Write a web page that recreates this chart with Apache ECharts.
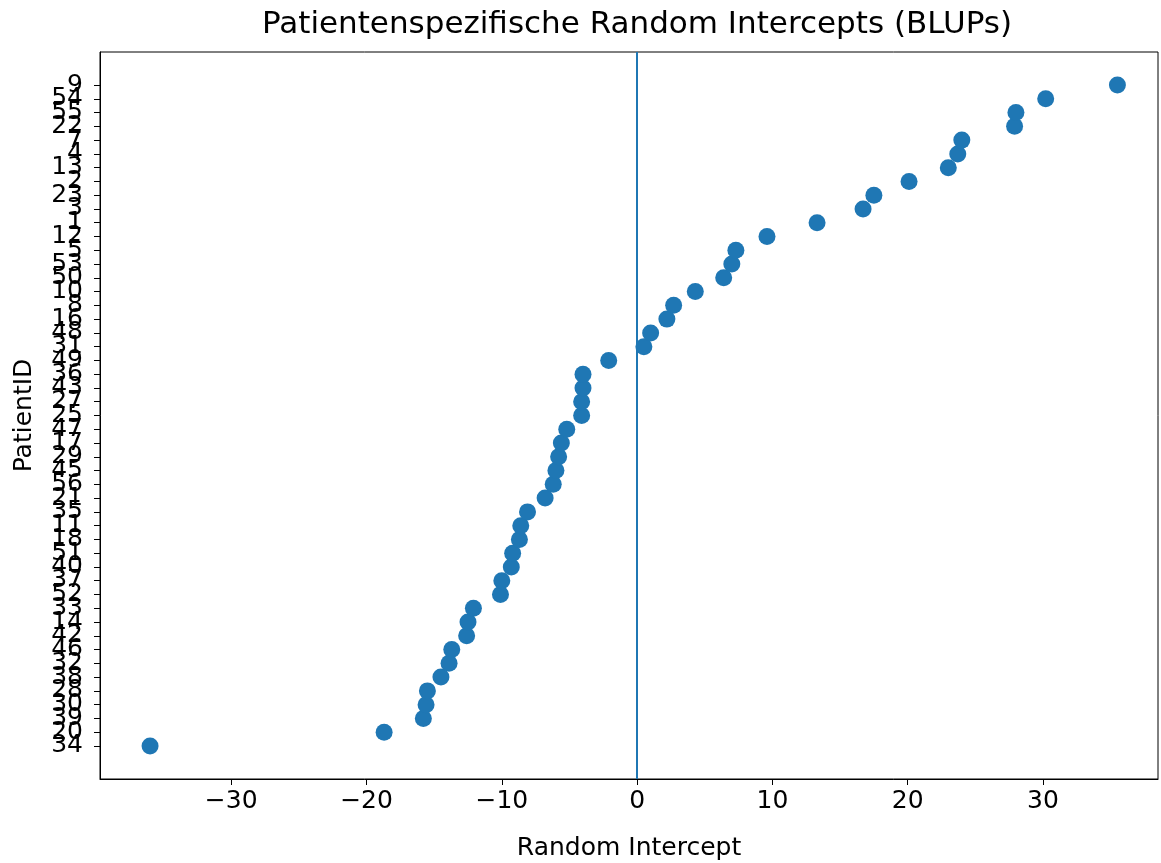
<!DOCTYPE html>
<html>
<head>
<meta charset="utf-8">
<script src="https://cdn.jsdelivr.net/npm/echarts@6/dist/echarts.min.js"></script>
<style>
html,body{margin:0;padding:0;background:#fff;}
#chart{width:1161px;height:863px;}
</style>
</head>
<body>
<div id="chart"></div>
<script>
// Patient IDs, bottom to top (sorted by random intercept)
const patientIds = [34,20,39,30,28,38,32,46,42,14,33,52,37,40,51,18,11,35,21,56,45,29,17,47,25,27,43,36,49,31,48,16,8,10,50,53,5,12,1,3,23,2,13,4,7,22,55,54,9];
// Random intercept (BLUP) per patient, same order
const intercepts = [-36.0,-18.7,-15.8,-15.6,-15.5,-14.5,-13.9,-13.7,-12.6,-12.5,-12.1,-10.1,-10.0,-9.3,-9.2,-8.7,-8.6,-8.1,-6.8,-6.2,-6.0,-5.8,-5.6,-5.2,-4.1,-4.1,-4.0,-4.0,-2.1,0.5,1.0,2.2,2.7,4.3,6.4,7.0,7.3,9.6,13.3,16.7,17.5,20.1,23.0,23.7,24.0,27.9,28.0,30.2,35.5];
const xTicks = [-30,-20,-10,0,10,20,30];

const idx = patientIds.map((_, i) => i);
const points = intercepts.map((v, i) => [v, i]);
const n = patientIds.length;
const xMin = -39.7, xMax = 38.5;
const yMin = -0.05 * (n - 1), yMax = (n - 1) * 1.05;

const chart = echarts.init(document.getElementById('chart'));
const fontFam = 'DejaVu Sans';

// The patient labels overlap heavily (as in the original); they are split over
// three label-only axes so that ECharts does not drop any of them.
function labelAxis(k) {
  return {
    type: 'value', min: yMin, max: yMax, position: 'left', offset: 0,
    axisLine: {show: false}, axisTick: {show: false}, splitLine: {show: false},
    axisLabel: {fontFamily: fontFam, fontSize: 25, color: '#000', margin: 17,
      customValues: idx.filter(i => i % 3 === k), hideOverlap: false,
      showMinLabel: true, showMaxLabel: true,
      formatter: v => String(patientIds[Math.round(v)])}
  };
}

chart.setOption({
  animation: false,
  backgroundColor: '#ffffff',
  title: {
    text: 'Patientenspezifische Random Intercepts (BLUPs)',
    left: 632, top: 4, textAlign: 'center',
    textStyle: {fontFamily: fontFam, fontSize: 31, fontWeight: 'normal', color: '#000'}
  },
  grid: {left: 100, right: 3, top: 52, bottom: 84, outerBoundsMode: 'none', containLabel: false,
    show: true, borderColor: '#000', borderWidth: 1, backgroundColor: 'transparent'},
  xAxis: {
    type: 'value', min: xMin, max: xMax,
    name: 'Random Intercept', nameLocation: 'middle', nameGap: 57,
    nameTextStyle: {fontFamily: fontFam, fontSize: 25, color: '#000'},
    axisLine: {show: true, onZero: false, lineStyle: {color: '#000', width: 1}},
    axisTick: {show: true, length: 6, lineStyle: {color: '#000'}, customValues: xTicks},
    axisLabel: {fontFamily: fontFam, fontSize: 25, color: '#000', margin: 10, customValues: xTicks,
      formatter: v => (v < 0 ? '\u2212' + Math.abs(v) : String(v))},
    splitLine: {show: false}
  },
  yAxis: [
    {
      type: 'value', min: yMin, max: yMax, position: 'left', offset: 0,
      name: 'PatientID', nameLocation: 'middle', nameGap: 63, nameRotate: 90,
      nameTextStyle: {fontFamily: fontFam, fontSize: 25, color: '#000'},
      axisLine: {show: true, onZero: false, lineStyle: {color: '#000', width: 1}},
      axisTick: {show: true, length: 6, lineStyle: {color: '#000'}, customValues: idx},
      axisLabel: {show: false},
      splitLine: {show: false}
    },
    labelAxis(0), labelAxis(1), labelAxis(2)
  ],
  series: [
    {
      type: 'scatter', data: points, symbol: 'circle', symbolSize: 17, yAxisIndex: 0,
      itemStyle: {color: '#1f77b4', opacity: 1},
      markLine: {
        silent: true, symbol: 'none', label: {show: false},
        lineStyle: {color: '#1f77b4', width: 2, type: 'solid'},
        data: [{xAxis: 0}]
      }
    }
  ]
});
</script>
</body>
</html>
